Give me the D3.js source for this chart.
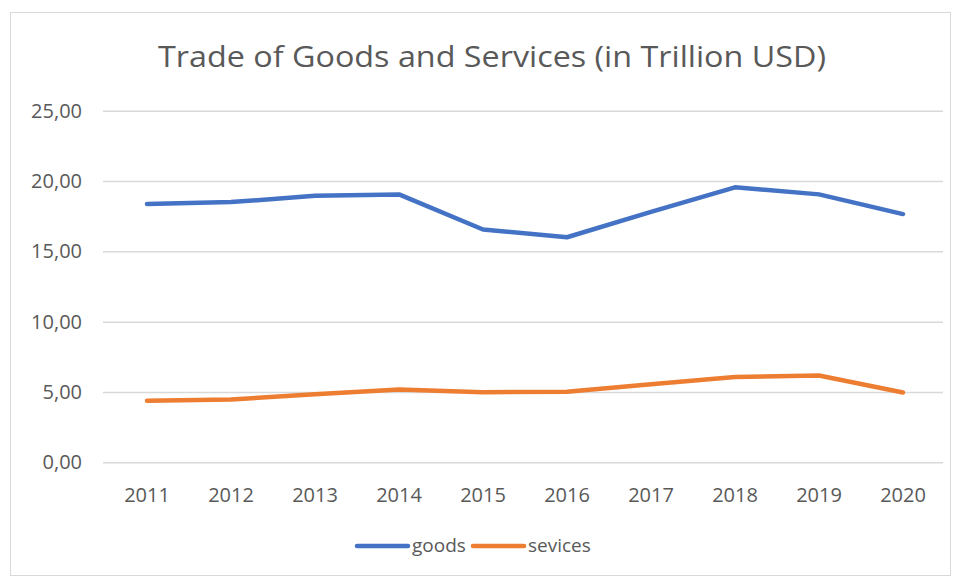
<!DOCTYPE html>
<html><head><meta charset="utf-8">
<script src="https://cdn.jsdelivr.net/npm/d3@7"></script>
<style>html,body{margin:0;padding:0;background:#fff;}svg{display:block;}</style>
</head><body>
<svg id="c" width="958" height="579"></svg>
<script>
const years = ["2011","2012","2013","2014","2015","2016","2017","2018","2019","2020"];
const goods = [18.37, 18.5, 18.95, 19.05, 16.55, 16.0, 17.8, 19.55, 19.05, 17.65];
const services = [4.38, 4.47, 4.84, 5.17, 4.98, 5.02, 5.55, 6.07, 6.17, 4.96];
const yTicks = [0, 5, 10, 15, 20, 25];
const seriesNames = ["goods", "sevices"];
const colors = ["#4472C4", "#ED7D31"];
const FONT = "Open Sans, sans-serif";

const svg = d3.select("#c");
svg.append("rect").attr("x", 10.5).attr("y", 12.5).attr("width", 940).attr("height", 563)
  .attr("fill", "#fff").attr("stroke", "#d9d9d9").attr("stroke-width", 1);

const x = d3.scaleBand().domain(years).range([105, 945]);
const y = d3.scaleLinear().domain([0, 25]).range([462.3, 110.7]);

svg.append("text").attr("x", 158).attr("y", 67)
  .attr("font-family", FONT).attr("font-size", 30).attr("font-weight", 400)
  .attr("textLength", 668).attr("lengthAdjust", "spacingAndGlyphs")
  .attr("fill", "#595959").text("Trade of Goods and Services (in Trillion USD)");

const yAxis = d3.axisLeft(y).tickValues(yTicks).tickSize(-(943 - 103)).tickPadding(21)
  .tickFormat(d => d3.format(".2f")(d).replace(".", ","));
const gy = svg.append("g").attr("transform", "translate(103,0)").call(yAxis);
gy.select(".domain").remove();
gy.selectAll("line").attr("stroke", "#d9d9d9").attr("stroke-width", 1.5);
gy.selectAll("text").attr("font-family", FONT).attr("font-size", 20).attr("fill", "#595959");

const xAxis = d3.axisBottom(x).tickSize(0);
const gx = svg.append("g").attr("transform", "translate(0,462.3)").call(xAxis);
gx.select(".domain").remove();
gx.selectAll("text").attr("y", 40).attr("dy", 0)
  .attr("font-family", FONT).attr("font-size", 20).attr("fill", "#595959");

const line = d3.line().x((d, i) => x(years[i]) + x.bandwidth() / 2).y(d => y(d));
[goods, services].forEach((s, k) => {
  svg.append("path").datum(s).attr("d", line).attr("fill", "none")
    .attr("stroke", colors[k]).attr("stroke-width", 4.5)
    .attr("stroke-linecap", "round").attr("stroke-linejoin", "round");
});

const leg = [{x: 357, tx: 412}, {x: 473, tx: 528}];
seriesNames.forEach((n, k) => {
  svg.append("line").attr("x1", leg[k].x).attr("x2", leg[k].x + 51).attr("y1", 546).attr("y2", 546)
    .attr("stroke", colors[k]).attr("stroke-width", 4.5).attr("stroke-linecap", "round");
  svg.append("text").attr("x", leg[k].tx).attr("y", 552).attr("font-family", FONT)
    .attr("font-size", 19).attr("fill", "#595959").text(n);
});
</script>
</body></html>
